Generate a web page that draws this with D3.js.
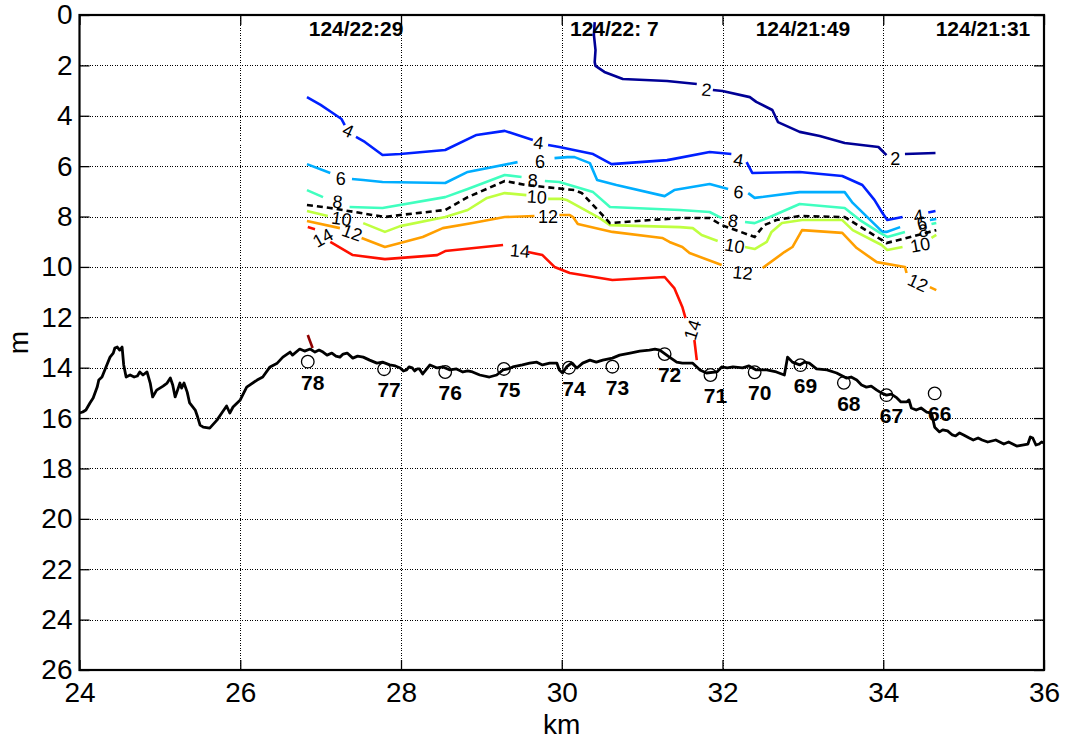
<!DOCTYPE html>
<html>
<head>
<meta charset="utf-8">
<script src="https://cdn.jsdelivr.net/npm/d3@7"></script>
<style>
  body { margin: 0; background: #fff; }
  text { font-family: "Liberation Sans", Arial, Helvetica, sans-serif; }
</style>
</head>
<body>
<svg id="chart" width="1065" height="742"></svg>
<script>
// ---- axis ticks ----
const xTicks = [24, 26, 28, 30, 32, 34, 36];
const yTicks = [0, 2, 4, 6, 8, 10, 12, 14, 16, 18, 20, 22, 24, 26];

// ---- CTD stations: number, distance (km), bottom depth (m) ----
const stationNames = ["78", "77", "76", "75", "74", "73", "72", "71", "70", "69", "68", "67", "66"];
const stationKm    = [26.84, 27.79, 28.55, 29.28, 30.09, 30.63, 31.28, 31.85, 32.40, 32.97, 33.51, 34.04, 34.64];
const stationDepth = [13.76, 14.06, 14.17, 14.05, 14.00, 13.96, 13.46, 14.29, 14.18, 13.90, 14.60, 15.09, 15.02];

// ---- time stamps (day/hh:mm) written above selected stations ----
const timeLabels  = ["124/22:29", "124/22: 7", "124/21:49", "124/21:31"];
const timeKm      = [26.84, 30.09, 32.40, 34.64];

// ---- bottom profile (km, m) ----
const bottom = [
  [24.00,15.80],[24.04,15.76],[24.08,15.68],[24.13,15.40],[24.17,15.20],[24.22,14.77],[24.24,14.49],
  [24.28,14.37],[24.33,13.97],[24.38,13.58],[24.42,13.42],[24.44,13.22],[24.47,13.18],[24.50,13.30],
  [24.53,13.18],[24.55,13.89],[24.58,14.37],[24.63,14.29],[24.68,14.37],[24.72,14.33],[24.75,14.17],
  [24.79,14.29],[24.84,14.17],[24.88,14.61],[24.91,15.16],[24.96,14.89],[25.04,14.73],[25.09,14.61],
  [25.13,14.41],[25.16,14.69],[25.19,15.16],[25.22,14.89],[25.25,14.61],[25.27,14.81],[25.30,14.61],
  [25.34,14.97],[25.37,15.40],[25.44,15.68],[25.47,15.96],[25.50,16.28],[25.54,16.36],[25.62,16.40],
  [25.71,16.08],[25.77,15.80],[25.83,15.52],[25.87,15.80],[25.91,15.56],[26.00,15.28],[26.08,14.77],
  [26.21,14.49],[26.28,14.37],[26.37,13.97],[26.46,13.82],[26.53,13.58],[26.62,13.38],[26.65,13.50],
  [26.74,13.26],[26.80,13.34],[26.87,13.26],[26.93,13.38],[26.98,13.30],[27.03,13.38],[27.08,13.50],
  [27.14,13.42],[27.19,13.54],[27.24,13.58],[27.28,13.46],[27.33,13.42],[27.40,13.62],[27.46,13.54],
  [27.53,13.58],[27.61,13.70],[27.70,13.82],[27.77,13.78],[27.86,13.89],[27.93,13.93],[27.99,14.01],
  [28.03,14.13],[28.07,14.09],[28.10,13.97],[28.14,14.01],[28.17,14.13],[28.20,14.05],[28.23,14.05],
  [28.27,14.25],[28.36,13.89],[28.45,14.01],[28.52,13.97],[28.61,14.09],[28.69,14.05],[28.77,14.17],
  [28.83,14.13],[28.89,14.17],[28.98,14.29],[29.10,14.37],[29.19,14.29],[29.27,14.09],[29.33,14.05],
  [29.39,13.97],[29.51,13.89],[29.60,13.82],[29.69,13.78],[29.76,13.89],[29.85,13.82],[29.94,13.82],
  [29.97,14.09],[30.01,14.21],[30.06,13.97],[30.12,13.82],[30.19,14.01],[30.26,13.82],[30.35,13.70],
  [30.43,13.78],[30.51,13.70],[30.63,13.62],[30.72,13.50],[30.85,13.42],[30.97,13.34],[31.09,13.30],
  [31.16,13.26],[31.22,13.30],[31.34,13.58],[31.43,13.78],[31.50,13.82],[31.63,13.82],[31.72,14.09],
  [31.80,14.21],[31.93,14.17],[31.99,13.97],[32.06,14.01],[32.13,13.97],[32.25,14.01],[32.33,13.93],
  [32.42,14.09],[32.55,14.09],[32.67,14.17],[32.77,14.29],[32.81,13.58],[32.87,13.78],[32.96,13.89],
  [33.02,13.78],[33.08,13.82],[33.17,14.05],[33.30,14.09],[33.42,14.21],[33.54,14.41],[33.60,14.37],
  [33.67,14.49],[33.73,14.69],[33.79,14.77],[33.85,14.73],[33.92,14.89],[33.98,15.01],[34.04,15.09],
  [34.10,15.05],[34.17,15.20],[34.22,15.36],[34.29,15.36],[34.32,15.28],[34.35,15.60],[34.38,15.64],
  [34.41,15.68],[34.47,15.60],[34.54,15.76],[34.60,15.80],[34.64,16.36],[34.70,16.55],[34.74,16.47],
  [34.80,16.51],[34.86,16.67],[34.90,16.71],[34.95,16.59],[35.00,16.67],[35.07,16.79],[35.12,16.87],
  [35.18,16.79],[35.23,16.87],[35.30,16.95],[35.35,16.91],[35.40,16.87],[35.45,16.95],[35.50,17.03],
  [35.56,16.95],[35.61,17.03],[35.66,17.11],[35.73,17.07],[35.80,17.03],[35.83,16.75],[35.86,16.79],
  [35.90,17.07],[35.94,17.03],[35.97,16.95],[36.00,16.99]
];

// ---- contour lines (km, m); null marks a break left for a label ----
const contourLevels = [2, 4, 6, 8, 10, 12, 14, 16];
const contourColors = ["#000096", "#0020ff", "#00aeff", "#40ffbf", "#bfff40", "#ff9f00", "#ff1000", "#8f0000"];

const c2 = [[30.41,0.28],[30.40,0.79],[30.42,1.39],[30.41,1.87],[30.42,2.02],[30.53,2.26],[30.76,2.54],
  [31.31,2.62],[31.68,2.74],null,[31.88,2.98],[32.00,3.02],[32.34,3.26],[32.42,3.45],[32.62,3.77],
  [32.69,4.25],[32.96,4.64],[33.21,4.80],[33.52,5.08],[33.94,5.24],[34.04,5.56],null,[34.27,5.52],[34.65,5.48]];
const c4 = [[26.83,3.26],[27.00,3.57],[27.15,3.89],[27.26,4.13],[27.30,4.37],null,[27.44,4.84],[27.55,5.04],
  [27.77,5.56],[27.99,5.52],[28.55,5.36],[28.94,4.76],[29.29,4.60],[29.64,4.96],null,[29.83,5.16],
  [29.97,5.24],[30.39,5.52],[30.62,5.92],[31.31,5.76],[31.38,5.72],[31.84,5.44],[32.11,5.52],null,
  [32.30,5.84],[32.37,6.27],[32.96,6.23],[33.49,6.39],[33.74,6.75],[33.89,7.34],[33.99,7.86],[34.05,8.14],
  [34.24,8.02],null,[34.56,7.84],[34.65,7.78]];
const c6 = [[26.83,5.92],[27.12,6.27],null,[27.39,6.51],[27.53,6.55],[27.77,6.63],[28.55,6.67],[28.83,6.23],
  [29.45,5.84],null,[29.91,5.68],[30.07,5.64],[30.16,5.64],[30.35,5.88],[30.44,6.55],[30.68,6.75],
  [31.28,7.19],[31.40,6.95],[31.84,6.71],[32.07,6.91],null,[32.32,7.07],[32.40,7.26],[32.96,7.03],
  [33.52,7.03],[33.62,7.46],[33.99,8.61],[34.04,8.61],[34.21,8.42],null,[34.58,8.14],[34.66,8.10]];
const c8 = [[26.83,6.95],[27.03,7.23],null,[27.36,7.62],[27.77,7.66],[28.55,7.23],[28.83,6.91],[29.29,6.35],
  [29.50,6.43],null,[29.79,6.59],[29.97,6.63],[30.39,7.03],[30.60,7.62],[31.47,7.74],[31.84,7.82],
  [31.99,8.06],null,[32.28,8.22],[32.40,8.26],[32.59,8.02],[32.96,7.50],[33.52,7.66],[33.71,8.14],
  [33.96,8.65],[34.05,8.81],[34.27,8.61],null,[34.60,8.30],[34.66,8.26]];
const c10 = [[26.83,7.78],[27.09,7.98],null,[27.53,8.26],[27.80,8.61],[27.99,8.38],[28.55,8.02],[28.83,7.74],
  [29.07,7.26],[29.29,7.07],[29.56,7.15],null,[29.83,7.30],[30.01,7.30],[30.06,7.34],[30.45,8.02],
  [30.60,8.34],[31.47,8.42],[31.63,8.46],[31.74,8.73],[31.94,8.97],null,[32.28,9.21],[32.40,9.29],
  [32.55,9.01],[32.61,8.61],[32.74,8.26],[32.99,8.14],[33.49,8.14],[33.62,8.54],[33.98,9.13],[34.05,9.33],
  [34.24,9.21],null,[34.60,8.85],[34.66,8.73]];
const c12 = [[26.83,8.18],[27.24,8.46],null,[27.51,8.85],[27.80,9.21],[27.99,9.05],[28.27,8.81],[28.52,8.46],
  [28.89,8.26],[29.29,8.02],[29.66,7.98],null,[29.97,7.94],[30.10,7.94],[30.14,8.02],[30.20,8.30],
  [30.63,8.61],[31.25,8.85],[31.34,9.01],[31.50,9.21],[31.59,9.45],[31.99,9.92],null,[32.50,10.04],
  [32.77,9.41],[32.87,9.21],[32.99,8.54],[33.49,8.65],[33.67,9.25],[33.92,9.81],[34.27,10.00],[34.29,10.24],
  null,[34.58,10.80],[34.66,10.92]];
const c14 = [[26.84,8.42],[26.93,8.50],null,[27.12,9.01],[27.40,9.53],[27.80,9.69],[28.45,9.53],[28.55,9.37],
  [29.27,9.13],null,[29.58,9.41],[29.76,9.53],[29.91,10.00],[30.10,10.24],[30.63,10.52],[31.28,10.40],
  [31.40,10.84],[31.50,11.59],[31.54,12.03],null,[31.65,12.90],[31.68,13.70]];
const c16 = [[26.84,12.70],[26.90,13.22]];
const contourLines = [c2, c4, c6, c8, c10, c12, c14, c16];

// dashed reference isoline
const dashedLine = [[26.83,7.54],[27.12,7.66],[27.80,8.02],[27.99,7.94],[28.55,7.74],[28.83,7.23],[29.29,6.59],
  [29.56,6.75],[30.16,6.95],[30.25,7.07],[30.60,8.26],[31.10,8.14],[31.47,8.06],[31.84,8.06],[31.99,8.34],
  [32.40,8.81],[32.52,8.34],[32.67,8.14],[32.96,7.98],[33.52,8.02],[33.98,8.93],[34.04,9.05],[34.29,8.85],
  [34.66,8.54]];

// contour labels: text, km, depth, rotation (deg)
const contourLabels = [
  ["2", 31.80, 2.98, 5], ["2", 34.15, 5.72, 0],
  ["4", 27.34, 4.60, 25], ["4", 29.71, 5.08, 8], ["4", 32.20, 5.76, 10], ["4", 34.44, 7.98, -8],
  ["6", 27.25, 6.51, 0], ["6", 29.73, 5.84, 0], ["6", 32.20, 7.03, 5], ["6", 34.48, 8.26, -8],
  ["8", 27.21, 7.42, 5], ["8", 29.64, 6.59, 0], ["8", 32.13, 8.18, 8], ["8", 34.50, 8.57, -8],
  ["10", 27.26, 8.10, 8], ["10", 29.69, 7.23, 3], ["10", 32.15, 9.17, 10], ["10", 34.46, 9.13, -10],
  ["12", 27.39, 8.65, 20], ["12", 29.83, 8.02, 0], ["12", 32.25, 10.24, 6], ["12", 34.43, 10.64, 25],
  ["14", 27.03, 8.85, -30], ["14", 29.48, 9.37, 5], ["14", 31.63, 12.50, -72]
];

// ---- drawing ----
const svg = d3.select("#chart");
const x = d3.scaleLinear().domain([24, 36]).range([79.5, 1044]);
const y = d3.scaleLinear().domain([0, 26]).range([15, 670]);
const [x0, x1] = x.range();
const [y0, y1] = y.range();

// grid
const grid = svg.append("g").attr("stroke", "#000").attr("stroke-width", 1)
  .attr("stroke-dasharray", "1,1.5").attr("shape-rendering", "crispEdges");
grid.selectAll("line.gx").data(xTicks.slice(1, -1)).join("line")
  .attr("class", "gx")
  .attr("x1", d => Math.round(x(d)) + 0.5).attr("x2", d => Math.round(x(d)) + 0.5)
  .attr("y1", y0).attr("y2", y1);
grid.selectAll("line.gy").data(yTicks.slice(1, -1)).join("line")
  .attr("class", "gy")
  .attr("x1", x0).attr("x2", x1)
  .attr("y1", d => Math.round(y(d)) + 0.5).attr("y2", d => Math.round(y(d)) + 0.5);

const line = d3.line().defined(d => d !== null).x(d => x(d[0])).y(d => y(d[1]));

// contours
svg.append("g").selectAll("path").data(contourLines).join("path")
  .attr("d", line).attr("fill", "none")
  .attr("stroke", (d, i) => contourColors[i])
  .attr("stroke-width", 2.6).attr("stroke-linejoin", "round");

svg.append("path").datum(dashedLine).attr("d", line).attr("fill", "none")
  .attr("stroke", "#000").attr("stroke-width", 2.6).attr("stroke-dasharray", "6,4");

svg.append("g").selectAll("text").data(contourLabels).join("text")
  .attr("transform", d => `translate(${x(d[1])},${y(d[2])}) rotate(${d[3]})`)
  .attr("text-anchor", "middle").attr("dominant-baseline", "central")
  .attr("font-size", 18).attr("fill", "#000").text(d => d[0]);

// bottom profile
svg.append("path").datum(bottom).attr("d", line).attr("fill", "none")
  .attr("stroke", "#000").attr("stroke-width", 2.8).attr("stroke-linejoin", "round");

// stations
const st = stationNames.map((n, i) => ({ n, km: stationKm[i], d: stationDepth[i] }));
svg.append("g").selectAll("circle").data(st).join("circle")
  .attr("cx", d => x(d.km)).attr("cy", d => y(d.d)).attr("r", 6.3)
  .attr("fill", "none").attr("stroke", "#000").attr("stroke-width", 1.3);
svg.append("g").selectAll("text").data(st).join("text")
  .attr("x", d => x(d.km) + 5).attr("y", d => y(d.d) + 28)
  .attr("text-anchor", "middle").attr("font-size", 21).attr("font-weight", "bold")
  .text(d => d.n);

// time stamps along the top
svg.append("g").selectAll("text").data(timeLabels).join("text")
  .attr("x", (d, i) => x(timeKm[i]) + 1).attr("y", 36)
  .attr("font-size", 21).attr("font-weight", "bold")
  .style("white-space", "pre").attr("xml:space", "preserve")
  .text(d => d);

// axes with inward ticks
function styleAxis(g) {
  g.attr("font-size", null).attr("font-family", null);
  g.selectAll(".tick line").attr("stroke", "#000").attr("stroke-width", 1.3);
  g.select(".domain").remove();
  g.selectAll("text").attr("font-size", 28).attr("fill", "#000");
}
svg.append("g").attr("transform", `translate(0,${y1})`)
  .call(d3.axisBottom(x).tickValues(xTicks).tickSizeInner(-10).tickSizeOuter(0).tickPadding(12))
  .call(styleAxis);
svg.append("g").attr("transform", `translate(0,${y0})`)
  .call(d3.axisTop(x).tickValues(xTicks).tickSizeInner(-10).tickSizeOuter(0).tickFormat(""))
  .call(styleAxis);
svg.append("g").attr("transform", `translate(${x0},0)`)
  .call(d3.axisLeft(y).tickValues(yTicks).tickSizeInner(-10).tickSizeOuter(0).tickPadding(7))
  .call(styleAxis);
svg.append("g").attr("transform", `translate(${x1},0)`)
  .call(d3.axisRight(y).tickValues(yTicks).tickSizeInner(-10).tickSizeOuter(0).tickFormat(""))
  .call(styleAxis);

// frame
svg.append("rect").attr("x", x0).attr("y", y0).attr("width", x1 - x0).attr("height", y1 - y0)
  .attr("fill", "none").attr("stroke", "#000").attr("stroke-width", 2.2);

// axis titles
svg.append("text").attr("x", (x0 + x1) / 2).attr("y", 734)
  .attr("text-anchor", "middle").attr("font-size", 28).text("km");
svg.append("text").attr("transform", `translate(28,${(y0 + y1) / 2}) rotate(-90)`)
  .attr("text-anchor", "middle").attr("font-size", 28).text("m");
</script>
</body>
</html>
